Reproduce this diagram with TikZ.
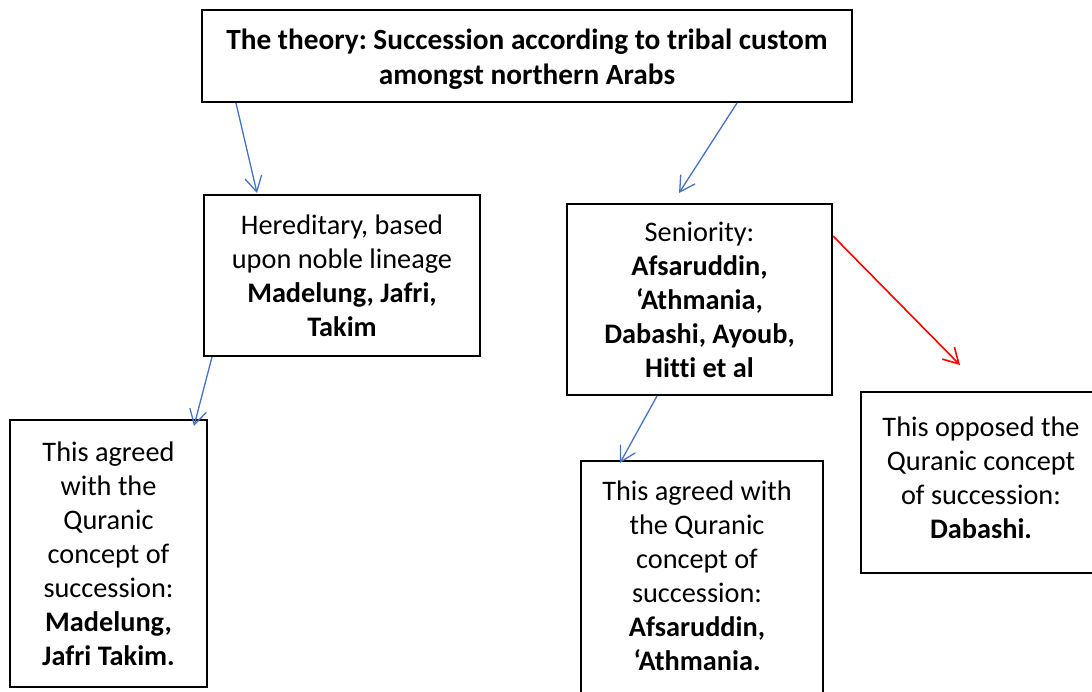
\documentclass[tikz,border=0pt]{standalone}
\usepackage{fontspec}
\setmainfont{Carlito}[Ligatures={NoCommon}]
\usetikzlibrary{arrows.meta,calc}
\frenchspacing
\definecolor{arrblue}{HTML}{4472C4}
\definecolor{arrred}{HTML}{FF0000}
\tikzset{
  box/.style={draw=black, line width=2pt, inner sep=0pt, align=center,
    font=\fontsize{28.3}{34}\selectfont},
  txt/.style={inner sep=0pt, align=center, font=\fontsize{28.3}{34}\selectfont},
  barrow/.style={draw=arrblue, line width=1.3pt, -{Straight Barb[length=15pt,width=17pt]}},
  rarrow/.style={draw=arrred, line width=1.6pt, -{Straight Barb[length=15pt,width=17pt]}}
}
\begin{document}
\begin{tikzpicture}[x=1pt,y=-1pt]
\useasboundingbox (0,0) rectangle (1092,691);
\clip (0,0) rectangle (1092,691);
\node[box, minimum width=650pt, minimum height=92pt] (top) at (527,56) {};
\node[txt, font=\fontsize{29.3}{35}\selectfont] (topt) at (527,59)
  {\textbf{The theory: Succession according to tribal custom}\\\textbf{amongst northern Arabs}};
\node[box, minimum width=276pt, minimum height=161pt] (her) at (342,275.5)
  {Hereditary, based\\upon noble lineage\\\textbf{Madelung, Jafri,}\\\textbf{Takim}};
\node[box, minimum width=265pt, minimum height=191pt] (sen) at (699.5,299.5)
  {Seniority:\\\textbf{Afsaruddin,}\\\textbf{‘Athmania,}\\\textbf{Dabashi, Ayoub,}\\\textbf{Hitti et al}};
\node[box, minimum width=197pt, minimum height=267pt] (lb) at (108.5,553.5)
  {This agreed\\with the\\Quranic\\concept of\\succession:\\\textbf{Madelung,}\\\textbf{Jafri Takim.}};
\node[box, minimum width=242pt, minimum height=260pt] (mb) at (702,591) {};
\node[txt] (mbt) at (697,575.5)
  {This agreed with\\the Quranic\\concept of\\succession:\\\textbf{Afsaruddin,}\\\textbf{‘Athmania.}};
\node[box, minimum width=240pt, minimum height=181pt] (rb) at (981,482.5) {};
\node[txt] (rbt) at (981,477.5)
  {This opposed the\\Quranic concept\\of succession:\\\textbf{Dabashi.}};
\coordinate (a2e) at ($(sen.north west)+(113,-10)$);
\draw[barrow] ($(top.south west)+(35,0)$) -- ($(her.north west)+(54,-1)$);
\draw[barrow] ($(top.south west)+(536,0)$) -- (a2e);
\draw[barrow] ($(her.south west)+(9,0)$) -- ($(lb.north east)+(-14,7)$);
\draw[barrow] ($(sen.south west)+(91,0)$) -- ($(mb.north west)+(40,3)$);
\draw[rarrow] ($(sen.north east)+(0,33)$) -- ($(rb.north west)+(100,-26)$);
\end{tikzpicture}
\end{document}
